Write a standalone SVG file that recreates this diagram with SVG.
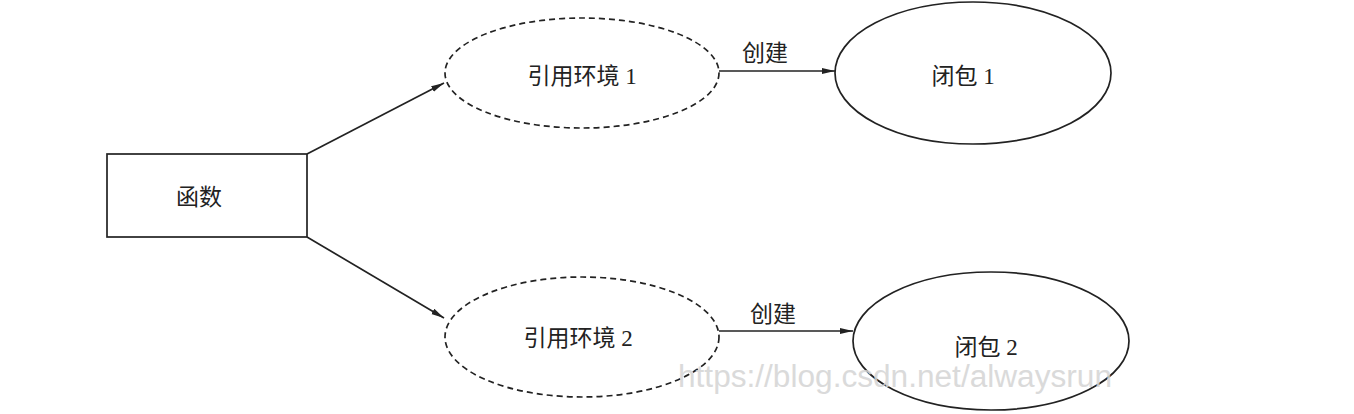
<svg xmlns="http://www.w3.org/2000/svg" width="1354" height="414" viewBox="0 0 1354 414">
<style>
.shape{fill:none;stroke:#222;stroke-width:1.7}
.dash{stroke-dasharray:6 4}
.lbl{font-family:"Liberation Serif","Noto Sans CJK SC",serif;font-size:23px;fill:#222;text-anchor:middle}
.conn{stroke:#222;stroke-width:1.7;fill:none}
.wm{font-family:"Liberation Sans",sans-serif;font-size:31px;fill:#d4d4d4;opacity:0.85}
</style>
<defs>
<marker id="arr" markerWidth="14" markerHeight="8" refX="13" refY="4" orient="auto" markerUnits="userSpaceOnUse">
<path d="M0,1 L13,4 L0,7 Z" fill="#222"/>
</marker>
</defs>
<rect width="1354" height="414" fill="#fff"/>
<g id="connectors">
<line class="conn" x1="307" y1="154" x2="444" y2="83" marker-end="url(#arr)"/>
<line class="conn" x1="307" y1="237" x2="444" y2="318" marker-end="url(#arr)"/>
<line class="conn" x1="719" y1="71" x2="835" y2="71" marker-end="url(#arr)"/>
<line class="conn" x1="719" y1="331" x2="853" y2="331" marker-end="url(#arr)"/>
<text class="lbl" x="765" y="61">创建</text>
<text class="lbl" x="773" y="322">创建</text>
</g>
<g id="func">
<rect class="shape" x="107" y="154" width="200" height="83"/>
<text class="lbl" x="199" y="205">函数</text>
</g>
<g id="env1">
<ellipse class="shape dash" cx="582" cy="73" rx="137" ry="55"/>
<text class="lbl" x="582" y="84">引用环境 1</text>
</g>
<g id="env2">
<ellipse class="shape dash" cx="582" cy="337" rx="137" ry="60"/>
<text class="lbl" x="578" y="346">引用环境 2</text>
</g>
<g id="closure1">
<ellipse class="shape" cx="973" cy="73" rx="138" ry="71"/>
<text class="lbl" x="963" y="84">闭包 1</text>
</g>
<g id="closure2">
<ellipse class="shape" cx="991" cy="341" rx="138" ry="69"/>
<text class="lbl" x="986" y="355">闭包 2</text>
</g>
<text class="wm" x="678" y="387" textLength="434" lengthAdjust="spacingAndGlyphs">https://blog.csdn.net/alwaysrun</text>
</svg>
